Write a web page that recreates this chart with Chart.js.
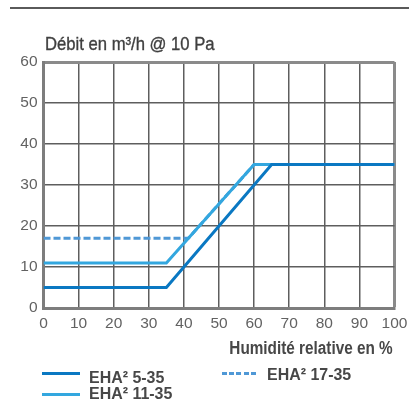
<!DOCTYPE html>
<html>
<head>
<meta charset="utf-8">
<title>Débit en fonction de l'humidité relative</title>
<script src="https://cdn.jsdelivr.net/npm/chart.js@4.4.1/dist/chart.umd.min.js"></script>
<style>
  html, body { margin: 0; padding: 0; background: #fff; }
  #wrap { position: relative; width: 409px; height: 402px; overflow: hidden;
          font-family: 'Liberation Sans', Arial, sans-serif; color: #474747; }
  #c { position: absolute; left: 0; top: 0; }
  .rule { position: absolute; left: 10px; top: 7px; width: 399px; height: 2px; background: #5a5a5a; }
  .txt { position: absolute; white-space: nowrap; line-height: 1; }
  #ytitle { left: 45px; top: 35px; font-size: 18.5px; transform: scaleX(0.9); transform-origin: 0 0;
            color: #3f3f3f; -webkit-text-stroke: 0.35px #3f3f3f; }
  #xtitle { right: 16px; top: 340px; font-size: 17.5px; font-weight: bold; transform: scaleX(0.875); transform-origin: 100% 0; }
  .swatch { position: absolute; height: 3px; }
  .lbl { position: absolute; white-space: nowrap; line-height: 1; font-size: 16.8px; font-weight: bold;
         transform: scaleX(0.95); transform-origin: 0 0; color: #474747; }
</style>
</head>
<body>
<div id="wrap">
  <canvas id="c" width="409" height="402"></canvas>
  <div class="rule"></div>
  <div class="txt" id="ytitle">Débit en m³/h @ 10 Pa</div>
  <div class="txt" id="xtitle">Humidité relative en %</div>
  <div id="legend"></div>
</div>
<script>
// Relative humidity breakpoints (%) and airflow (m³/h @ 10 Pa) for each model
const eha5_35_x  = [0, 35, 65, 100];
const eha5_35_y  = [5, 5, 35, 35];
const eha11_35_x = [0, 35, 60, 100];
const eha11_35_y = [11, 11, 35, 35];
const eha17_35_x = [0, 41.25, 60, 100];
const eha17_35_y = [17, 17, 35, 35];

const seriesLabels = ['EHA² 5-35', 'EHA² 11-35', 'EHA² 17-35'];
const seriesColors = ['#0a78c2', '#33a7df', '#4f98d6'];

// Axis ranges and tick steps
const xRange = [0, 100], xStep = 10;
const yRange = [0, 60],  yStep = 10;

const toPoints = (xs, ys) => xs.map((x, i) => ({ x: x, y: ys[i] }));

const datasets = [
  { label: seriesLabels[0], data: toPoints(eha5_35_x, eha5_35_y),  borderColor: seriesColors[0], dash: [] },
  { label: seriesLabels[1], data: toPoints(eha11_35_x, eha11_35_y), borderColor: seriesColors[1], dash: [] },
  { label: seriesLabels[2], data: toPoints(eha17_35_x, eha17_35_y), borderColor: seriesColors[2], dash: [7, 3] }
].map(d => ({
  label: d.label,
  data: d.data,
  borderColor: d.borderColor,
  backgroundColor: d.borderColor,
  borderDash: d.dash,
  borderWidth: 3,
  borderCapStyle: 'butt',
  borderJoinStyle: 'miter',
  pointRadius: 0,
  tension: 0,
  fill: false
}));

const tickFont = { family: "'Liberation Sans', Arial, sans-serif", size: 15.5 };
const tickColor = '#626262';
const gridColor = (ctx, last) => ctx.index === last ? '#8a8a8a' : '#5e5e5e';
const gridWidth = (ctx, last) => ctx.index === last ? 3 : 1.5;

new Chart(document.getElementById('c'), {
  type: 'line',
  data: { datasets: datasets },
  options: {
    responsive: false,
    animation: false,
    devicePixelRatio: 1,
    layout: { padding: { top: 62, right: 14.5, left: 0, bottom: 0 } },
    plugins: { legend: { display: false }, tooltip: { enabled: false } },
    scales: {
      x: {
        type: 'linear',
        min: xRange[0], max: xRange[1],
        ticks: { stepSize: xStep, font: tickFont, color: tickColor, padding: 6, maxRotation: 0 },
        grid: { color: c => gridColor(c, 10), lineWidth: c => gridWidth(c, 10), drawTicks: false },
        border: { display: true, color: '#7d7d7d', width: 3 },
        afterFit: s => { s.height = 94; s.paddingLeft = 0; s.paddingRight = 0; }
      },
      y: {
        type: 'linear',
        min: yRange[0], max: yRange[1],
        ticks: { stepSize: yStep, font: tickFont, color: tickColor, padding: 6 },
        grid: { color: c => gridColor(c, 6), lineWidth: c => gridWidth(c, 6), drawTicks: false },
        border: { display: true, color: '#7d7d7d', width: 3 },
        afterFit: s => { s.width = 43.5; s.paddingTop = 0; s.paddingBottom = 0; }
      }
    }
  }
});

// Legend built from the dataset definitions: swatch box and label position per entry
const legendSwatch = [
  { left: 42, top: 372, width: 38 },
  { left: 42, top: 392.5, width: 38 },
  { left: 222, top: 371.5, width: 34 }
];
const legendText = [
  { left: 89.3, top: 370 },
  { left: 89.3, top: 385.8 },
  { left: 266.7, top: 367.2 }
];
const legend = document.getElementById('legend');
datasets.forEach((d, i) => {
  const sw = document.createElement('div');
  sw.className = 'swatch';
  sw.style.left = legendSwatch[i].left + 'px';
  sw.style.top = legendSwatch[i].top + 'px';
  sw.style.width = legendSwatch[i].width + 'px';
  if (d.borderDash.length) {
    sw.style.background = 'repeating-linear-gradient(to right, ' + d.borderColor + ' 0 5px, transparent 5px 7.2px)';
  } else {
    sw.style.background = d.borderColor;
  }
  const lbl = document.createElement('div');
  lbl.className = 'lbl';
  lbl.style.left = legendText[i].left + 'px';
  lbl.style.top = legendText[i].top + 'px';
  lbl.textContent = d.label;
  legend.appendChild(sw);
  legend.appendChild(lbl);
});
</script>
</body>
</html>
